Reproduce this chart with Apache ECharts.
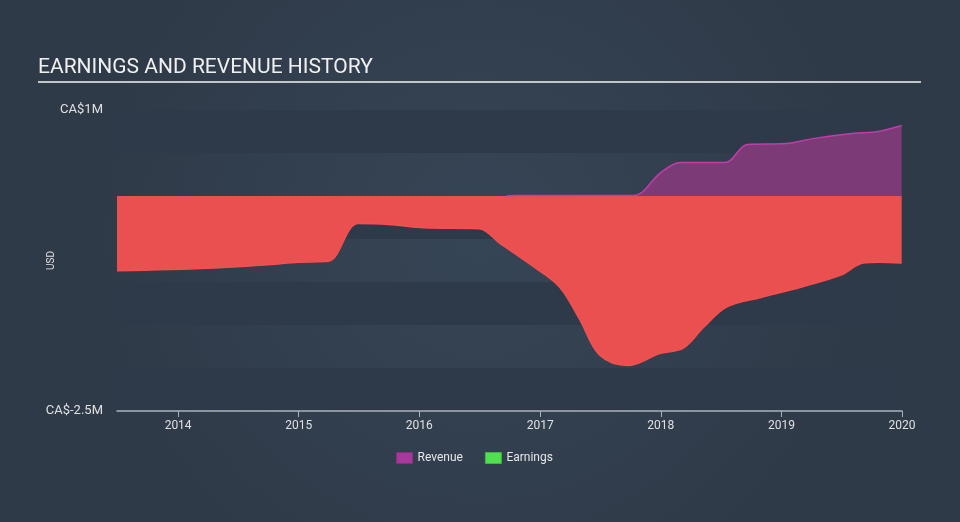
<!DOCTYPE html>
<html>
<head>
<meta charset="utf-8">
<script src="https://cdn.jsdelivr.net/npm/echarts@6/dist/echarts.min.js"></script>
<style>
html,body{margin:0;padding:0;background:#333f4f;}
#chart{width:960px;height:522px;}
</style>
</head>
<body>
<div id="chart"></div>
<script>
const titleText = 'EARNINGS AND REVENUE HISTORY';
const seriesNames = ['Revenue', 'Earnings'];
const yTickLabels = { max: 'CA$1M', min: 'CA$-2.5M' };

const revenueDates = ['2016-09-20','2016-10-20','2017-10-10','2017-12-31','2018-03-01','2018-07-15','2018-09-20','2019-01-15','2019-04-10','2019-08-10','2019-10-05','2019-12-31'];
const revenueValues = [0, 0.005, 0.005, 0.27, 0.39, 0.39, 0.60, 0.61, 0.67, 0.73, 0.74, 0.82];

const earningsDates = ['2013-06-30','2014-03-31','2014-09-30','2014-12-31','2015-03-31','2015-06-30','2015-09-30','2016-01-15','2016-06-30','2016-09-01','2016-12-15','2017-03-01','2017-05-01','2017-06-30','2017-09-25','2017-12-31','2018-03-10','2018-05-10','2018-07-20','2018-10-31','2019-03-01','2019-06-30','2019-09-05','2019-10-25','2019-12-31'];
const earningsValues = [-0.87,-0.84,-0.80,-0.77,-0.76,-0.32,-0.33,-0.37,-0.38,-0.55,-0.83,-1.06,-1.44,-1.85,-1.97,-1.83,-1.77,-1.53,-1.29,-1.18,-1.06,-0.92,-0.78,-0.77,-0.78];

const M = 1e6;
const revData = revenueDates.map((d, i) => [d, revenueValues[i] * M]);
const earnData = earningsDates.map((d, i) => [d, earningsValues[i] * M]);

const chart = echarts.init(document.getElementById('chart'), null, {renderer: 'canvas'});
chart.setOption({
  backgroundColor: {
    type: 'radial', x: 0.5, y: 0.45, r: 0.75,
    colorStops: [{offset: 0, color: '#364556'}, {offset: 1, color: '#2f3a48'}]
  },
  animation: false,
  textStyle: {fontFamily: 'Roboto'},
  title: {
    text: titleText, left: 38, top: 57, padding: 0,
    textStyle: {color: '#f0f0f0', fontSize: 21, fontWeight: 'normal', fontFamily: 'Roboto'}
  },
  graphic: [{
    type: 'line', shape: {x1: 38, y1: 82, x2: 921, y2: 82},
    style: {stroke: '#c2c6cb', lineWidth: 2}
  }],
  legend: {
    data: [
      {name: seriesNames[0], itemStyle: {color: '#a8389c', borderColor: '#8a2c80', borderWidth: 1}},
      {name: seriesNames[1], itemStyle: {color: '#50e050', borderColor: '#3cb83c', borderWidth: 1}}
    ],
    icon: 'rect', itemWidth: 16, itemHeight: 11, itemGap: 22,
    left: 391, top: 447,
    textStyle: {color: '#e6e6e6', fontSize: 12, fontFamily: 'Roboto'}
  },
  grid: {left: 117, right: 58, top: 110, bottom: 111, containLabel: false},
  xAxis: {
    type: 'time',
    min: '2013-06-30', max: '2020-01-01',
    axisLine: {onZero: false, lineStyle: {color: '#aab2bc', width: 1.5}},
    axisTick: {show: true, length: 6, lineStyle: {color: '#aab2bc'}},
    splitLine: {show: false},
    axisLabel: {color: '#e0e0e0', fontSize: 12, formatter: '{yyyy}', margin: 9, showMaxLabel: true},
    minInterval: 365 * 24 * 3600 * 1000,
    splitNumber: 7
  },
  yAxis: {
    type: 'value',
    min: -2.5 * M, max: 1 * M, interval: 0.5 * M,
    name: 'USD', nameLocation: 'middle', nameRotate: 90, nameGap: 61,
    nameMoveOverlap: false,
    nameTextStyle: {color: '#e0e0e0', fontSize: 10},
    axisLine: {show: false}, axisTick: {show: false},
    splitLine: {show: false},
    splitArea: {show: true, areaStyle: {color: ['#2e3a4a', 'rgba(0,0,0,0)']}},
    axisLabel: {
      color: '#e0e0e0', fontSize: 13, margin: 14,
      formatter: v => v === 1 * M ? yTickLabels.max : (v === -2.5 * M ? yTickLabels.min : '')
    }
  },
  series: [
    {
      name: seriesNames[1], type: 'line', data: earnData, smooth: 0.35,
      symbol: 'none', z: 2,
      itemStyle: {color: '#50e050'},
      lineStyle: {color: '#f2514f', width: 1.5},
      areaStyle: {color: '#eb5050', opacity: 1, origin: 0}
    },
    {
      name: seriesNames[0], type: 'line', data: revData, smooth: 0.35,
      symbol: 'none', z: 3,
      itemStyle: {color: '#a8389c'},
      lineStyle: {color: '#c23caa', width: 1.5},
      areaStyle: {color: '#7c3a77', opacity: 1, origin: 0}
    }
  ]
});
</script>
</body>
</html>
